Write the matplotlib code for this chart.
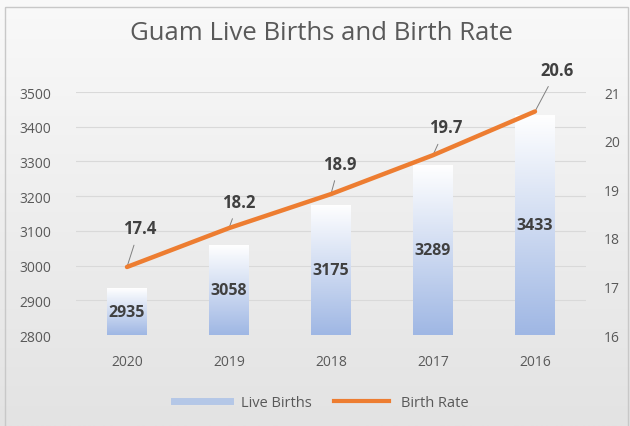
import matplotlib
matplotlib.use('Agg')
import matplotlib.pyplot as plt
import numpy as np
from matplotlib.colors import LinearSegmentedColormap
from matplotlib.lines import Line2D
from matplotlib.patches import Rectangle

years = ['2020', '2019', '2018', '2017', '2016']
live_births = [2935, 3058, 3175, 3289, 3433]
birth_rate = [17.4, 18.2, 18.9, 19.7, 20.6]

c_rate = '#ED7D31'
c_text = '#595959'
c_grid = '#d9d9d9'

plt.rcParams['font.family'] = ['Open Sans', 'DejaVu Sans']

fig = plt.figure(figsize=(6.3, 4.27), dpi=100)

# gradient backdrop for the chart frame
bg = fig.add_axes([0, 0, 1, 1], zorder=0)
bg.set_xlim(0, 630)
bg.set_ylim(427, 0)
bg.axis('off')
bg_cmap = LinearSegmentedColormap.from_list('bg', ['#f9f9f9', '#e3e3e3'])
grad = np.linspace(0, 1, 256).reshape(-1, 1)
bg.imshow(grad, cmap=bg_cmap, extent=[0, 630, 427, 0], aspect='auto')
bg.add_patch(Rectangle((5, 8), 623, 425, fill=False, edgecolor='#c8c8c8', lw=1))

ax = fig.add_axes([0.1206, 0.2131, 0.8095, 0.569], zorder=1)
ax.patch.set_alpha(0)
x = np.arange(len(years))
ax.set_xlim(-0.5, len(years) - 0.5)
ax.set_ylim(2800, 3500)
ax.set_yticks(range(2800, 3501, 100))
for y in range(2900, 3501, 100):
    ax.axhline(y, color=c_grid, lw=0.8, zorder=0)

# bars filled with a white-to-blue vertical gradient
bar_cmap = LinearSegmentedColormap.from_list('bar', ['#ffffff', '#9fb7e4'])
w = 0.39
bars = ax.bar(x, [v - 2800 for v in live_births], bottom=2800, width=w,
              color='none', edgecolor='none', zorder=2)
for xi, b, v in zip(x, bars, live_births):
    im = ax.imshow(grad, cmap=bar_cmap, extent=[xi - w / 2, xi + w / 2, 2800, v],
                   aspect='auto', zorder=2, origin='upper')
    im.set_clip_path(b)
    ax.text(xi, (2800 + v) / 2, str(v), ha='center', va='center',
            fontsize=11.5, fontweight='bold', color='#404040', zorder=4)

ax.set_xticks(x)
ax.set_xticklabels(years)
ax.tick_params(axis='both', length=0, labelsize=10, colors=c_text)
ax.tick_params(axis='x', pad=14)
ax.tick_params(axis='y', pad=18)
for s in ax.spines.values():
    s.set_visible(False)

ax2 = ax.twinx()
ax2.set_ylim(16, 21)
ax2.set_yticks(range(16, 22))
ax2.tick_params(axis='y', length=0, labelsize=10, colors=c_text, pad=13)
for s in ax2.spines.values():
    s.set_visible(False)
ax2.plot(x, birth_rate, color=c_rate, lw=3.2, solid_capstyle='round', zorder=5)

# rate labels with leader lines
offsets = [(9, 28), (7, 19), (6, 22), (9, 20), (16, 30)]
for xi, r, (dx, dy) in zip(x, birth_rate, offsets):
    ax2.annotate(f'{r}', xy=(xi, r), xytext=(dx, dy), textcoords='offset points',
                 ha='center', va='center', fontsize=12, fontweight='bold',
                 color='#404040', annotation_clip=False,
                 arrowprops=dict(arrowstyle='-', color='#808080', lw=0.7,
                                 shrinkA=4, shrinkB=0))

fig.text(0.51, 0.922, 'Guam Live Births and Birth Rate', fontsize=18.5,
         color=c_text, ha='center', va='center')

handles = [Line2D([], [], color='#b4c7e7', lw=5),
           Line2D([], [], color=c_rate, lw=3)]
fig.legend(handles, ['Live Births', 'Birth Rate'], loc='center',
           bbox_to_anchor=(0.51, 0.055), ncol=2, frameon=False,
           fontsize=10.5, labelcolor=c_text, handlelength=3.8, columnspacing=1.5)

fig.savefig('out.png', dpi=100)
